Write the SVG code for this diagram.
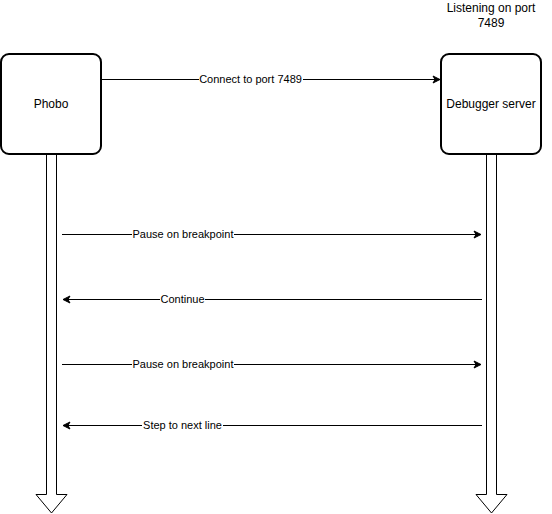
<svg xmlns="http://www.w3.org/2000/svg" width="552" height="514" viewBox="0 0 552 514">
<style>
.box{fill:#fff;stroke:#000;stroke-width:2}
.life{fill:#fff;stroke:#000;stroke-width:1}
.ln{stroke:#000;stroke-width:1;fill:none}
.t{font-family:"Liberation Sans",Arial,sans-serif;font-size:11px;fill:#000;text-anchor:middle}
.bt{font-family:"Liberation Sans",Arial,sans-serif;font-size:12px;fill:#000;text-anchor:middle}
.lbl{fill:#fff}
</style>
<defs>
<marker id="ah" markerWidth="10" markerHeight="10" refX="8" refY="5" orient="auto" markerUnits="userSpaceOnUse">
<path d="M1,1.5 L8,5 L1,8.5 L3,5 Z" fill="#000" stroke="#000" stroke-width="1"/>
</marker>
</defs>
<g id="phobo-lifeline">
<path class="life" d="M46.5,154 L46.5,494.5 L36,494.5 L51.5,513 L67,494.5 L56.5,494.5 L56.5,154"/>
</g>
<g id="server-lifeline">
<path class="life" d="M486.5,154 L486.5,494.5 L476,494.5 L491.5,513 L507,494.5 L496.5,494.5 L496.5,154"/>
</g>
<g id="phobo">
<rect class="box" x="1" y="54" width="100" height="100" rx="8" ry="8"/>
<text class="bt" x="51" y="108">Phobo</text>
</g>
<g id="server">
<rect class="box" x="441" y="54" width="100" height="100" rx="8" ry="8"/>
<text class="bt" x="491" y="108">Debugger server</text>
</g>
<g id="listening-label">
<text class="bt" x="491" y="12">Listening on port</text>
<text class="bt" x="491" y="27">7489</text>
</g>
<g id="connectors">
<line class="ln" x1="102" y1="79.5" x2="440" y2="79.5" marker-end="url(#ah)"/>
<rect class="lbl" x="199" y="72" width="104" height="14"/>
<text class="t" x="250.5" y="83">Connect to port 7489</text>

<line class="ln" x1="62" y1="234.5" x2="481" y2="234.5" marker-end="url(#ah)"/>
<rect class="lbl" x="132" y="227" width="102" height="14"/>
<text class="t" x="183" y="238">Pause on breakpoint</text>

<line class="ln" x1="482" y1="299.5" x2="63" y2="299.5" marker-end="url(#ah)"/>
<rect class="lbl" x="160" y="292" width="45" height="14"/>
<text class="t" x="182.5" y="303">Continue</text>

<line class="ln" x1="62" y1="364.5" x2="481" y2="364.5" marker-end="url(#ah)"/>
<rect class="lbl" x="132" y="357" width="102" height="14"/>
<text class="t" x="183" y="368">Pause on breakpoint</text>

<line class="ln" x1="482" y1="425.5" x2="63" y2="425.5" marker-end="url(#ah)"/>
<rect class="lbl" x="142" y="418" width="81" height="14"/>
<text class="t" x="182.5" y="429">Step to next line</text>
</g>
</svg>
